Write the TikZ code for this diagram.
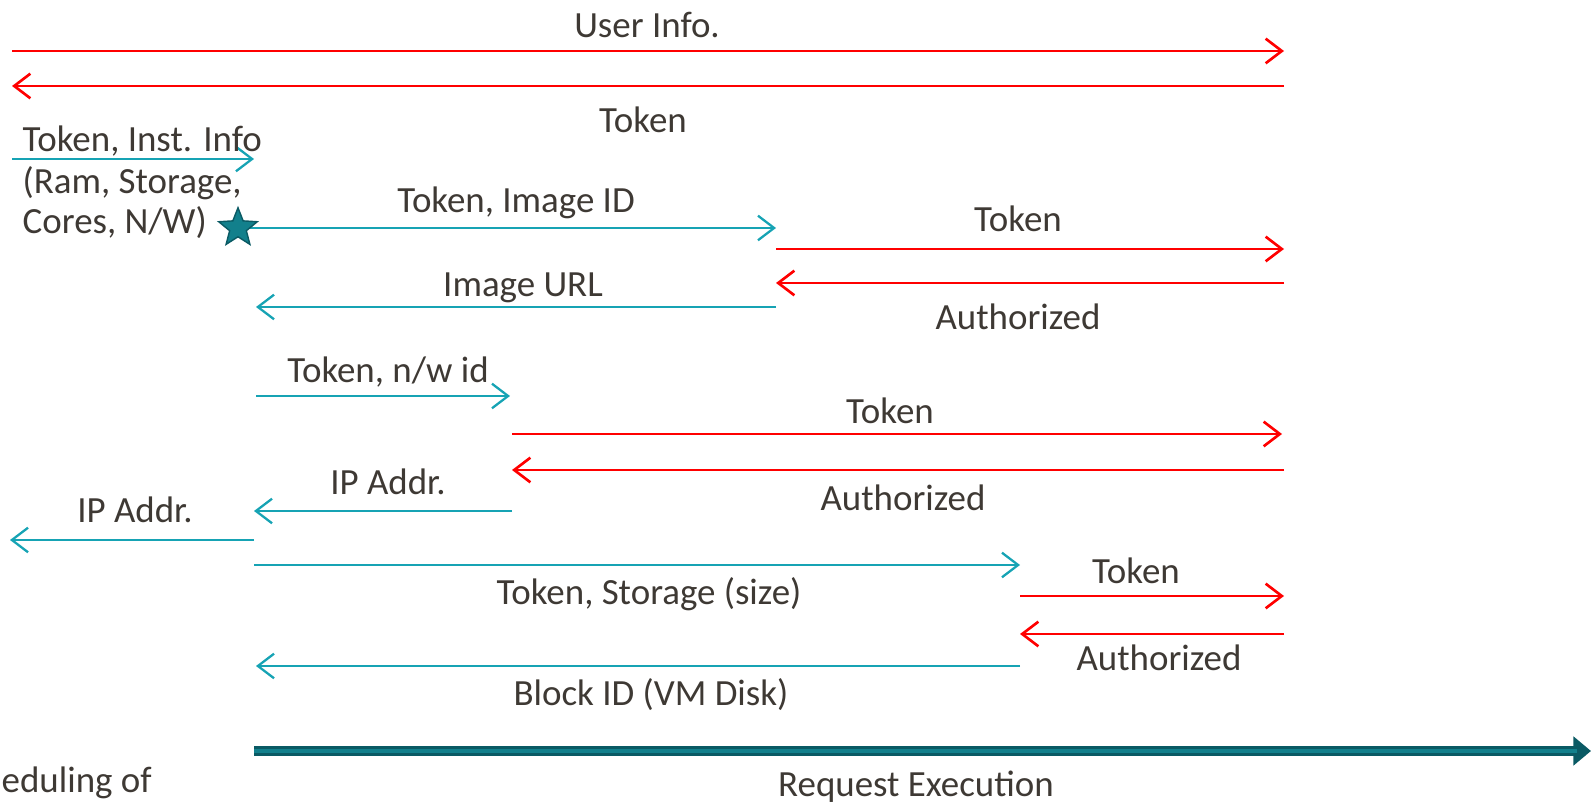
\documentclass[tikz,border=0pt]{standalone}
\usepackage{fontspec}
\setmainfont{Carlito}
\usetikzlibrary{arrows.meta,shapes.geometric,positioning}

\definecolor{msgred}{RGB}{255,0,0}
\definecolor{msgcyan}{RGB}{22,163,180}
\definecolor{execteal}{RGB}{18,128,140}
\definecolor{execdark}{RGB}{10,90,100}
\definecolor{txtgray}{RGB}{62,57,52}

\begin{document}
\begin{tikzpicture}[%
    x=0.01cm, y=-0.01cm,
    >={Straight Barb[length=4.6pt,width=7pt]},
    redmsg/.style={draw=msgred, line width=0.75pt},
    cyanmsg/.style={draw=msgcyan, line width=0.65pt},
    lbl/.style={text=txtgray, font=\fontsize{10.5}{12}\selectfont, inner sep=0pt, align=left}
  ]
  \useasboundingbox (0,0) rectangle (1591,804);

  % lanes
  \coordinate (a0) at (12,51);    \coordinate (a1) at (1284,51);
  \coordinate (b0) at (12,86);    \coordinate (b1) at (1284,86);
  \coordinate (c0) at (12,159);   \coordinate (c1) at (254,159);
  \coordinate (st) at (238,228);
  \coordinate (d1) at (776,226);
  \coordinate (e0) at (776,249);  \coordinate (e1) at (1284,249);
  \coordinate (f0) at (1284,283); \coordinate (f1) at (776,283);
  \coordinate (g0) at (776,307);  \coordinate (g1) at (256,307);
  \coordinate (h0) at (256,396);  \coordinate (h1) at (510,396);
  \coordinate (i0) at (512,434);  \coordinate (i1) at (1282,434);
  \coordinate (j0) at (1284,470); \coordinate (j1) at (512,470);
  \coordinate (k0) at (512,511);  \coordinate (k1) at (254,511);
  \coordinate (l0) at (254,540);  \coordinate (l1) at (10,540);
  \coordinate (m0) at (254,565);  \coordinate (m1) at (1020,565);
  \coordinate (n0) at (1020,596); \coordinate (n1) at (1284,596);
  \coordinate (o0) at (1284,634); \coordinate (o1) at (1020,634);
  \coordinate (p0) at (1020,666); \coordinate (p1) at (256,666);
  \coordinate (q0) at (254,751);  \coordinate (q1) at (1591,751);

  \draw[->, redmsg] (a0) -- (a1);
  \draw[->, redmsg] (b1) -- (b0);
  \draw[->, cyanmsg] (c0) -- (c1);
  \draw[->, cyanmsg] (st) -- (st -| d1);
  \draw[->, redmsg] (e0) -- (e1);
  \draw[->, redmsg] (f0) -- (f1);
  \draw[->, cyanmsg] (g0) -- (g1);
  \draw[->, cyanmsg] (h0) -- (h1);
  \draw[->, redmsg] (i0) -- (i1);
  \draw[->, redmsg] (j0) -- (j1);
  \draw[->, cyanmsg] (k0) -- (k1);
  \draw[->, cyanmsg] (l0) -- (l1);
  \draw[->, cyanmsg] (m0) -- (m1);
  \draw[->, redmsg] (n0) -- (n1);
  \draw[->, redmsg] (o0) -- (o1);
  \draw[->, cyanmsg] (p0) -- (p1);
  \node[star, star points=5, star point ratio=2.3, minimum size=11.5pt, inner sep=0pt,
        fill=execteal, draw=execdark, line width=0.4pt] (star) at (st) {};

  % execution bar
  \draw[execdark, line width=2.6pt, -{Triangle[length=5pt,width=8pt]}] (q0) -- (q1);
  \draw[execteal, line width=1.2pt, shorten >=4pt] (q0) -- (q1);

  % labels
  \node[lbl] (userinfo) at (647,25) {User Info.};
  \node[lbl] (tok1) at (643,120) {Token};
  \node[lbl, anchor=west] (inst) at (22,141) {Token, Inst. Info};
  \node[lbl, anchor=west] (inst2) at (22,183) {(Ram, Storage,};
  \node[lbl, anchor=west] (inst3) at (22,223) {Cores, N/W)};
  \node[lbl] (imgid) at (516,203) {Token, Image ID};
  \node[lbl] (tok2) at (1018,219) {Token};
  \node[lbl] (auth1) at (1018,317) {Authorized};
  \node[lbl] (imgurl) at (523,288) {Image URL};
  \node[lbl] (nwid) at (388,372) {Token, n/w id};
  \node[lbl] (tok3) at (890,411) {Token};
  \node[lbl] (auth2) at (903,498) {Authorized};
  \node[lbl] (ip1) at (388,482) {IP Addr.};
  \node[lbl] (ip2) at (135,510) {IP Addr.};
  \node[lbl] (stor) at (649,594) {Token, Storage (size)};
  \node[lbl] (tok4) at (1136,571) {Token};
  \node[lbl] (auth3) at (1159,658) {Authorized};
  \node[lbl] (blk) at (651,695) {Block ID (VM Disk)};
  \node[lbl] (reqex) at (916,787) {Request Execution};
  \node[lbl, anchor=west] (sched) at (1,783) {eduling of};
\end{tikzpicture}
\end{document}
